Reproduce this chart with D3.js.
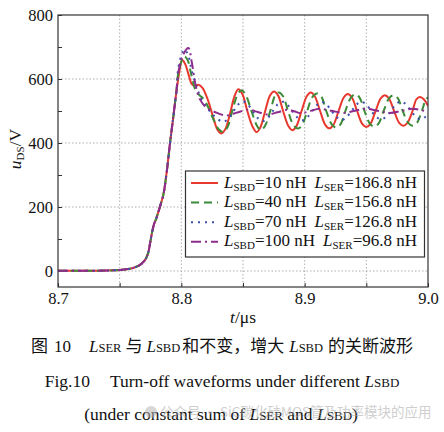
<!DOCTYPE html>
<html>
<head>
<meta charset="utf-8">
<script src="https://cdn.jsdelivr.net/npm/d3@7"></script>
<style>
  html, body { margin: 0; padding: 0; background: #fff; }
  svg { display: block; }
  text { font-family: "Liberation Serif", "Times New Roman", serif; fill: #111; }
  .cjk { font-family: "Noto Sans CJK SC", sans-serif; }
</style>
</head>
<body>
<div id="main"></div>
<script>
// ---- data: [t (us), uDS (V)] ----
// rising edge, common to all four cases
const rise = [
  [8.700, 1], [8.730, 1], [8.745, 2], [8.752, 4], [8.758, 7], [8.762, 11],
  [8.7665, 19], [8.7705, 34], [8.773, 55], [8.7748, 90], [8.7765, 125],
  [8.778, 148], [8.7795, 162], [8.781, 180], [8.783, 205], [8.7855, 240],
  [8.788, 305], [8.7908, 399], [8.7935, 482], [8.796, 560]
];

const redTail = [
  [8.7985, 625], [8.8005, 659], [8.803, 648], [8.806, 612], [8.8085, 584],
  [8.811, 578], [8.8138, 582], [8.817, 573], [8.8215, 535], [8.826, 478],
  [8.8295, 440], [8.8325, 430], [8.8355, 442], [8.8395, 492], [8.843, 545],
  [8.8462, 568], [8.8495, 553], [8.8535, 500], [8.8578, 451], [8.861, 434],
  [8.864, 448], [8.868, 500], [8.872, 549], [8.8752, 561], [8.8785, 548],
  [8.8825, 500], [8.8868, 453], [8.890, 440], [8.8932, 452], [8.8975, 500],
  [8.9018, 547], [8.905, 558], [8.9082, 546], [8.9125, 500], [8.9168, 456],
  [8.920, 446], [8.9232, 456], [8.9275, 500], [8.9318, 543], [8.935, 553],
  [8.9382, 543], [8.9425, 500], [8.9468, 459], [8.950, 450], [8.9532, 459],
  [8.9575, 500], [8.9618, 540], [8.965, 549], [8.9682, 540], [8.9725, 500],
  [8.9768, 462], [8.980, 454], [8.9832, 462], [8.9875, 500], [8.9905, 536],
  [8.9935, 544], [8.9968, 536], [9.000, 516]
];

const greenTail = [
  [8.798, 628], [8.8025, 670], [8.805, 660], [8.808, 615], [8.8115, 565],
  [8.8145, 550], [8.818, 538], [8.822, 510], [8.8265, 470], [8.8305, 442],
  [8.834, 434], [8.8375, 450], [8.842, 510], [8.846, 555], [8.849, 565],
  [8.8525, 548], [8.857, 498], [8.8612, 455], [8.8645, 440], [8.868, 455],
  [8.8725, 505], [8.876, 548], [8.879, 558], [8.8825, 546], [8.8865, 500],
  [8.891, 455], [8.8945, 445], [8.898, 456], [8.902, 500], [8.9065, 545],
  [8.910, 555], [8.9135, 545], [8.9175, 500], [8.922, 458], [8.9255, 448],
  [8.929, 458], [8.933, 500], [8.9375, 542], [8.941, 552], [8.9445, 542],
  [8.9485, 500], [8.953, 460], [8.9565, 451], [8.960, 461], [8.964, 500],
  [8.9685, 540], [8.972, 549], [8.9755, 540], [8.9795, 500], [8.984, 463],
  [8.9875, 454], [8.991, 463], [8.995, 500], [8.9985, 538], [9.000, 542]
];

const blueTail = [
  [8.798, 645], [8.8025, 692], [8.8055, 675], [8.8085, 625], [8.8125, 575],
  [8.8165, 535], [8.821, 510], [8.8265, 485], [8.834, 466], [8.838, 476],
  [8.842, 498], [8.846, 520], [8.850, 530], [8.854, 520], [8.858, 498],
  [8.862, 478], [8.866, 468], [8.870, 478], [8.874, 499], [8.878, 520],
  [8.882, 529], [8.886, 520], [8.890, 499], [8.894, 480], [8.898, 471],
  [8.902, 480], [8.906, 499], [8.910, 519], [8.914, 528], [8.918, 519],
  [8.922, 499], [8.926, 481], [8.930, 472], [8.934, 481], [8.938, 500],
  [8.942, 520], [8.946, 529], [8.950, 520], [8.954, 500], [8.958, 482],
  [8.962, 474], [8.966, 482], [8.970, 501], [8.974, 521], [8.978, 530],
  [8.982, 521], [8.986, 501], [8.990, 483], [8.994, 474], [8.998, 482],
  [9.000, 490]
];

const purpleTail = [
  [8.798, 630], [8.802, 680], [8.8057, 697], [8.8085, 652], [8.8115, 582],
  [8.815, 537], [8.8205, 510], [8.827, 497], [8.836, 486], [8.845, 495],
  [8.854, 504], [8.862, 497], [8.870, 489], [8.878, 496], [8.886, 504],
  [8.8915, 499], [8.897, 493], [8.9045, 500], [8.912, 507], [8.9215, 501],
  [8.931, 494], [8.940, 500], [8.949, 507], [8.959, 501], [8.969, 494],
  [8.978, 500], [8.987, 507], [8.994, 503], [9.000, 497]
];

const sbdValues = ["10", "40", "70", "100"];
const serValues = ["186.8", "156.8", "126.8", "96.8"];

const xTicks = [8.70, 8.75, 8.80, 8.85, 8.90, 8.95, 9.00];
const xLabels = [8.7, 8.8, 8.9, 9.0];
const yTicks = [0, 100, 200, 300, 400, 500, 600, 700, 800];
const yLabels = [0, 200, 400, 600, 800];
const xGrid = [8.75, 8.80, 8.85, 8.90, 8.95];
const yGrid = [0, 200, 400, 600];

const series = [
  { data: rise.concat(redTail),    color: "#e8382d", dash: null },
  { data: rise.concat(greenTail),  color: "#3b8b37", dash: "8,5" },
  { data: rise.concat(blueTail),   color: "#3f4fae", dash: "2,5" },
  { data: rise.concat(purpleTail), color: "#8c2c8c", dash: "10,4,2,4" }
];

// ---- layout ----
const W = 444, H = 432;
const pLeft = 58, pRight = 428, pTop = 15, pBottom = 287;
const serif = "'Liberation Serif', 'Times New Roman', serif";

const svg = d3.select("#main").append("svg")
  .attr("width", W)
  .attr("height", H);

const x = d3.scaleLinear().domain([8.7, 9.0]).range([pLeft, pRight]);
const y = d3.scaleLinear().domain([-50, 800]).range([pBottom, pTop]);

svg.append("clipPath").attr("id", "plotclip")
  .append("rect")
  .attr("x", pLeft).attr("y", pTop)
  .attr("width", pRight - pLeft).attr("height", pBottom - pTop);

// grid
svg.append("g").selectAll("line").data(xGrid).enter().append("line")
  .attr("x1", d => x(d)).attr("x2", d => x(d))
  .attr("y1", pTop).attr("y2", pBottom)
  .attr("stroke", "#9a9a9a").attr("stroke-width", 0.8)
  .attr("stroke-dasharray", "1.5,2");
svg.append("g").selectAll("line").data(yGrid).enter().append("line")
  .attr("x1", pLeft).attr("x2", pRight)
  .attr("y1", d => y(d)).attr("y2", d => y(d))
  .attr("stroke", "#9a9a9a").attr("stroke-width", 0.8)
  .attr("stroke-dasharray", "1.5,2");

// axes (ticks inward)
const xAxis = svg.append("g")
  .attr("transform", "translate(0," + pBottom + ")")
  .call(d3.axisBottom(x).tickValues(xTicks).tickSizeInner(-4).tickSizeOuter(0).tickPadding(5)
    .tickFormat(d => xLabels.some(v => Math.abs(v - d) < 1e-9) ? d3.format(".1f")(d) : ""));
const yAxis = svg.append("g")
  .attr("transform", "translate(" + pLeft + ",0)")
  .call(d3.axisLeft(y).tickValues(yTicks).tickSizeInner(-4).tickSizeOuter(0).tickPadding(5)
    .tickFormat(d => yLabels.indexOf(d) >= 0 ? d : ""));

[xAxis, yAxis].forEach(g => {
  g.attr("font-family", serif).attr("font-size", 16);
  g.select(".domain").remove();
  g.selectAll(".tick line").attr("stroke", "#333").attr("stroke-width", 1);
  g.selectAll(".tick text")
    .style("font-family", serif)
    .style("font-size", "16.5px").attr("fill", "#111");
});

// curves
const line = d3.line()
  .x(d => x(d[0]))
  .y(d => y(d[1]))
  .curve(d3.curveCatmullRom.alpha(0.5));

const plot = svg.append("g").attr("clip-path", "url(#plotclip)");
series.forEach(s => {
  plot.append("path")
    .datum(s.data)
    .attr("d", line)
    .attr("fill", "none")
    .attr("stroke", s.color)
    .attr("stroke-width", 2)
    .attr("stroke-dasharray", s.dash);
});

// frame
svg.append("rect")
  .attr("x", pLeft).attr("y", pTop)
  .attr("width", pRight - pLeft).attr("height", pBottom - pTop)
  .attr("fill", "none").attr("stroke", "#333").attr("stroke-width", 1.2);

// legend
const lg = svg.append("g");
lg.append("rect")
  .attr("x", 185.5).attr("y", 171).attr("width", 239).attr("height", 86)
  .attr("fill", "#fff").attr("stroke", "#333").attr("stroke-width", 1.2);

series.forEach((s, i) => {
  const by = 187.5 + i * 19.6;
  lg.append("line")
    .attr("x1", 191).attr("x2", 218)
    .attr("y1", by - 4.5).attr("y2", by - 4.5)
    .attr("stroke", s.color).attr("stroke-width", 2)
    .attr("stroke-dasharray", s.dash);
  const t = lg.append("text").attr("x", 224).attr("y", by).style("font-size", "17px");
  t.append("tspan").style("font-style", "italic").text("L");
  t.append("tspan").style("font-size", "11px").attr("dy", 3).text("SBD");
  t.append("tspan").attr("dy", -3).text("=" + sbdValues[i] + " nH");
  t.append("tspan").attr("dx", 8).style("font-style", "italic").text("L");
  t.append("tspan").style("font-size", "11px").attr("dy", 3).text("SER");
  t.append("tspan").attr("dy", -3).text("=" + serValues[i] + " nH");
});

// axis titles
const yl = svg.append("text")
  .attr("transform", "translate(21,149) rotate(-90)")
  .attr("text-anchor", "middle")
  .style("font-size", "17.5px");
yl.append("tspan").style("font-style", "italic").text("u");
yl.append("tspan").style("font-size", "11px").attr("dy", 3).text("DS");
yl.append("tspan").attr("dy", -3).text("/V");

const xl = svg.append("text")
  .attr("x", 243).attr("y", 323)
  .attr("text-anchor", "middle")
  .style("font-size", "17.5px");
xl.append("tspan").style("font-style", "italic").text("t");
xl.append("tspan").text("/\u03bcs");

// caption
const c1 = svg.append("text").attr("x", 222).attr("y", 352)
  .attr("text-anchor", "middle").style("font-size", "17px");
c1.append("tspan").attr("class", "cjk").text("图");
c1.append("tspan").attr("dx", 6).text("10");
c1.append("tspan").attr("dx", 18).style("font-style", "italic").text("L");
c1.append("tspan").style("font-size", "12.5px").text("SER");
c1.append("tspan").attr("dx", 4).attr("class", "cjk").text("与");
c1.append("tspan").attr("dx", 4).style("font-style", "italic").text("L");
c1.append("tspan").style("font-size", "12.5px").text("SBD");
c1.append("tspan").attr("dx", 2).attr("class", "cjk").text("和不变，增大");
c1.append("tspan").attr("dx", 5).style("font-style", "italic").text("L");
c1.append("tspan").style("font-size", "12.5px").text("SBD");
c1.append("tspan").attr("dx", 5).attr("class", "cjk").text("的关断波形");

const c2 = svg.append("text").attr("x", 222).attr("y", 387)
  .attr("text-anchor", "middle").style("font-size", "17.5px");
c2.append("tspan").text("Fig.10");
c2.append("tspan").attr("dx", 20).text("Turn-off waveforms under different ");
c2.append("tspan").style("font-style", "italic").text("L");
c2.append("tspan").style("font-size", "13px").text("SBD");

const c3 = svg.append("text").attr("x", 221).attr("y", 420)
  .attr("text-anchor", "middle").style("font-size", "17.5px");
c3.append("tspan").text("(under constant sum of ");
c3.append("tspan").style("font-style", "italic").text("L");
c3.append("tspan").style("font-size", "13px").text("SER");
c3.append("tspan").text(" and ");
c3.append("tspan").style("font-style", "italic").text("L");
c3.append("tspan").style("font-size", "13px").text("SBD");
c3.append("tspan").text(")");

// watermark
const wm = svg.append("g").attr("opacity", 0.55);
wm.append("circle").attr("cx", 151).attr("cy", 412).attr("r", 6).attr("fill", "#b8b8b8");
wm.append("text").attr("class", "cjk").attr("x", 160).attr("y", 417)
  .style("font-size", "13.5px").style("fill", "#a8a8a8")
  .text("公众号 · SiC碳化硅MOS管及功率模块的应用");
</script>
</body>
</html>
